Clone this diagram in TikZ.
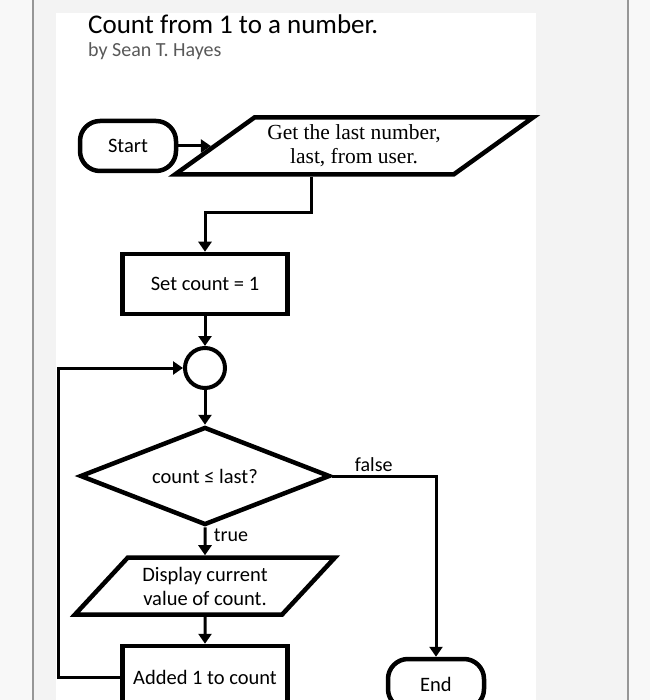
\documentclass[tikz,border=0pt]{standalone}
\usepackage{fontspec}
\setmainfont{Carlito}
\newfontfamily\cambriaface{Liberation Serif}
\usetikzlibrary{positioning,arrows.meta,calc,shapes.geometric}
\definecolor{outergray}{RGB}{248,248,248}
\definecolor{pagegray}{RGB}{243,243,243}
\definecolor{rulegray}{RGB}{150,150,150}
\definecolor{subgray}{RGB}{89,89,89}
\tikzset{
  box/.style={draw,line width=4.5pt,font=\fontsize{20.5}{24}\selectfont,align=center,inner sep=0pt},
  terminal/.style={box,rounded corners=20pt,minimum width=96pt,minimum height=50pt},
  process/.style={box,minimum width=165pt,minimum height=60pt},
  iobox/.style={box,trapezium,trapezium stretches body,minimum height=57pt},
  decision/.style={box,diamond,aspect=2.5,minimum width=250pt,minimum height=98pt},
  junction/.style={draw,circle,line width=4pt,minimum size=40pt,inner sep=0pt},
  flow/.style={line width=3pt,-{Triangle[length=10pt,width=13pt]}},
  flowlabel/.style={font=\fontsize{20}{24}\selectfont}
}

\begin{document}
\begin{tikzpicture}[x=1pt,y=-1pt]
\useasboundingbox (0,0) rectangle (650,700);
% page background
\fill[outergray] (0,0) rectangle (650,700);
\fill[pagegray] (33,0) rectangle (628,700);
\fill[white] (56,13) rectangle (536,700);
\draw[rulegray,line width=1.5pt] (33,0) -- (33,700);
\draw[rulegray,line width=1.5pt] (628,0) -- (628,700);

% heading
\node[anchor=base west,inner xsep=0pt,font=\fontsize{27}{32}\selectfont] (title) at (88,34) {Count from 1 to a number.};
\node[anchor=base west,inner xsep=0pt,font=\fontsize{20}{24}\selectfont,text=subgray] (byline) at (88,57) {by Sean T. Hayes};

% chart
\node[terminal] (start) at (128,146) {Start};
\node[iobox,trapezium left angle=28,trapezium right angle=152,minimum width=358pt,font=\cambriaface\fontsize{21.5}{24}\selectfont] (getlast) at (354,146) {Get the last number,\\last, from user.};
\node[process] (setcount) at (205,284) {Set count = 1};
\node[junction] (junc) at (205,368) {};
\node[decision] (test) at (205,476) {count ≤ last?};
\node[iobox,trapezium left angle=36,trapezium right angle=144,minimum width=260pt] (show) at (205,586) {Display current\\value of count.};
\node[process,minimum height=62pt] (addone) at (205,677) {Added 1 to count};
\node[terminal] (finish) at (436,684) {End};

\coordinate (getbottom) at ($(getlast.bottom left corner)!0.5!(getlast.bottom right corner)$);
\coordinate (bend) at (205,213);
\coordinate (loopleft) at (58,677);

\draw[flow] (start) -- (getlast.left side);
\draw[flow] (getbottom) |- (bend) -- (setcount.north);
\draw[flow] (setcount.south) -- (junc.north);
\draw[flow] (junc.south) -- (test.north);
\draw[flow] (test.south) -- node[right=4pt,pos=0.3,flowlabel] {true} (show.north);
\draw[flow] (show.south) -- (addone.north);
\draw[flow] (addone.west) -- (loopleft) |- (junc.west);
\draw[flow] (test.east) -| node[above,pos=0.2,flowlabel] {false} (finish.north);
\end{tikzpicture}
\end{document}
